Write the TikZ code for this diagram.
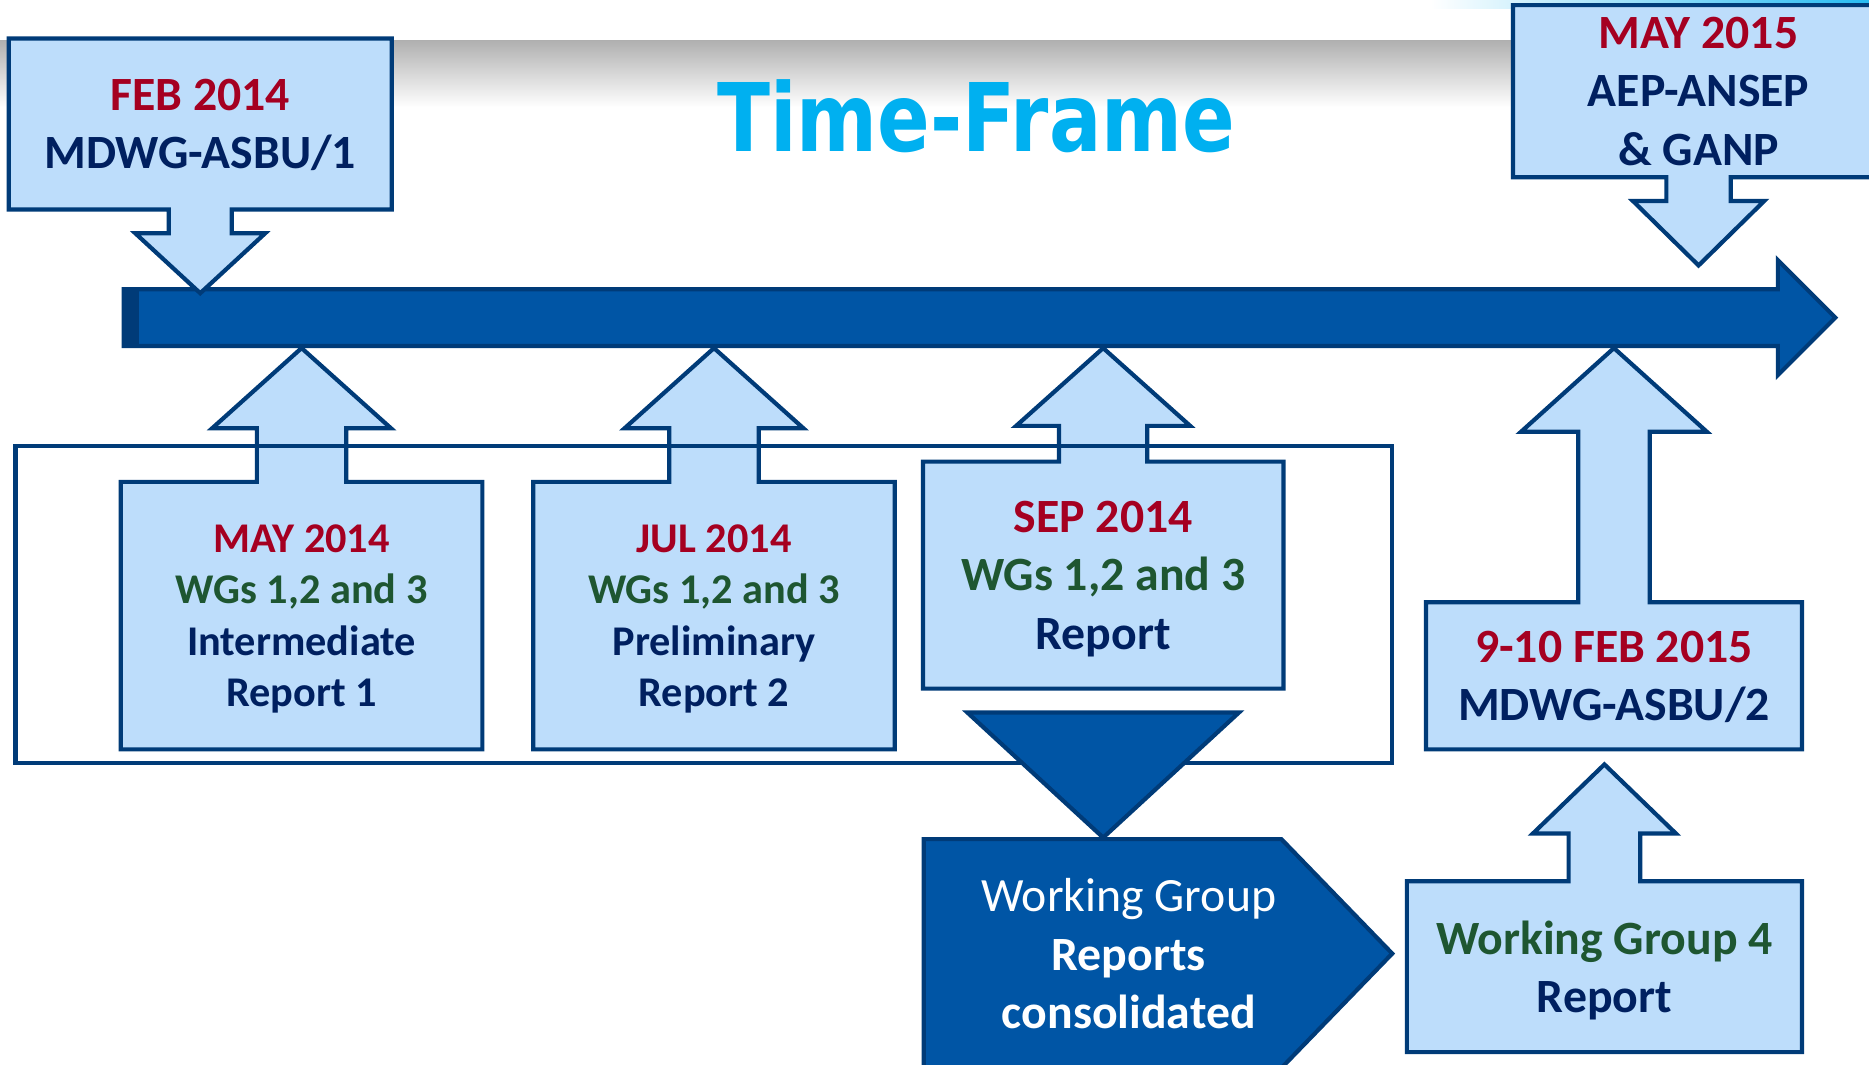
\documentclass[tikz,border=0pt]{standalone}
\usepackage{fontspec}
\setmainfont{Carlito}
\newfontfamily\titlefont{DejaVu Sans}
\usetikzlibrary{shapes.arrows, calc, backgrounds}

\definecolor{boxfill}{HTML}{BDDDFB}
\definecolor{boxline}{HTML}{003B78}
\definecolor{lineblue}{HTML}{0055A5}
\definecolor{datered}{HTML}{A50021}
\definecolor{wggreen}{HTML}{1E5631}
\definecolor{navytext}{HTML}{002060}
\definecolor{titlecyan}{HTML}{00B0F0}

\tikzset{
    box_text/.style={
        align=center, inner sep=0pt, text=navytext, text depth=0pt,
        font=\bfseries\fontsize{11.4}{13.9}\selectfont
    },
    box_text_small/.style={
        box_text, font=\bfseries\fontsize{10.1}{12.2}\selectfont
    },
    callout_shape/.style={
        draw=boxline, fill=boxfill, line width=1pt
    },
    dark_shape/.style={
        draw=boxline, fill=lineblue, line width=1pt
    },
    timeline_arrow/.style={
        single arrow, draw=boxline, fill=lineblue, line width=1pt,
        inner xsep=0pt, inner ysep=0.22cm,
        single arrow head extend=0.245cm, minimum height=14.36cm
    }
}

% box outline merged with a block arrow
% #1 box, #2 shaft half width, #3 neck length, #4 head half width, #5 tip
\newcommand{\upcallout}[5]{%
    \draw[callout_shape] (#1.south west) -- (#1.north west)
        -- ($(#1.north)+(-#2,0)$) -- ($(#1.north)+(-#2,#3)$) -- ($(#1.north)+(-#4,#3)$)
        -- (#5) -- ($(#1.north)+(#4,#3)$) -- ($(#1.north)+(#2,#3)$)
        -- ($(#1.north)+(#2,0)$) -- (#1.north east) -- (#1.south east) -- cycle;%
}
\newcommand{\downcallout}[5]{%
    \draw[callout_shape] (#1.north west) -- (#1.south west)
        -- ($(#1.south)+(-#2,0)$) -- ($(#1.south)+(-#2,-#3)$) -- ($(#1.south)+(-#4,-#3)$)
        -- (#5) -- ($(#1.south)+(#4,-#3)$) -- ($(#1.south)+(#2,-#3)$)
        -- ($(#1.south)+(#2,0)$) -- (#1.south east) -- (#1.north east) -- cycle;%
}

\begin{document}
\begin{tikzpicture}

    \useasboundingbox (0,0) rectangle (15.68,-8.93);

    % --- Title ---
    \node[font=\titlefont\bfseries\fontsize{22.6}{27}\selectfont, text=titlecyan,
          xscale=0.82, transform shape, anchor=base] (title) at (8.19,-1.27) {Time-Frame};

    % --- Meetings above the line ---
    \node[box_text, minimum width=3.20cm, minimum height=1.42cm] (feb14) at (1.68,-1.04) {
        \textcolor{datered}{FEB 2014}\\
        MDWG-ASBU/1
    };
    \node[box_text, minimum width=3.10cm, minimum height=1.43cm] (may15) at (14.25,-0.765) {
        \textcolor{datered}{MAY 2015}\\
        AEP-ANSEP\\
        \& GANP
    };

    % --- Working group reports below the line ---
    \node[box_text_small, minimum width=3.02cm, minimum height=2.23cm] (may14) at (2.53,-5.165) {
        \textcolor{datered}{MAY 2014}\\
        \textcolor{wggreen}{WGs 1,2 and 3}\\
        Intermediate\\
        Report 1
    };
    \node[box_text_small, minimum width=3.02cm, minimum height=2.23cm] (jul14) at (5.99,-5.165) {
        \textcolor{datered}{JUL 2014}\\
        \textcolor{wggreen}{WGs 1,2 and 3}\\
        Preliminary\\
        Report 2
    };
    \node[box_text, minimum width=3.01cm, minimum height=1.89cm] (sep14) at (9.255,-4.825) {
        \textcolor{datered}{SEP 2014}\\
        \textcolor{wggreen}{WGs 1,2 and 3}\\
        Report
    };
    \node[box_text, minimum width=3.14cm, minimum height=1.22cm] (feb15) at (13.54,-5.67) {
        \textcolor{datered}{9-10 FEB 2015}\\
        MDWG-ASBU/2
    };
    \node[box_text, minimum width=3.30cm, minimum height=1.42cm] (wg4) at (13.46,-8.11) {
        \textcolor{wggreen}{Working Group 4}\\
        Report
    };

    \begin{scope}[on background layer]
        % header band
        \fill[top color=black!31, bottom color=white] (0,-0.34) rectangle (15.68,-0.90);
        \shade[left color=white, right color=titlecyan!85] (12.0,0) rectangle (15.68,-0.07);

        % --- Time line ---
        \node[timeline_arrow, anchor=tail] (timeline) at (1.02,-2.665) {};
        \fill[boxline] (timeline.before tail) rectangle ($(timeline.after tail)+(0.15,0)$);

        % --- Callouts ---
        \downcallout{feb14}{0.265}{0.20}{0.545}{$(feb14.south |- timeline.north)+(0,-0.05)$}
        \downcallout{may15}{0.27}{0.20}{0.55}{$(may15.south)+(0,-0.74)$}
        \upcallout{may14}{0.375}{0.45}{0.75}{may14.north |- timeline.south}
        \upcallout{jul14}{0.375}{0.45}{0.75}{jul14.north |- timeline.south}
        \upcallout{sep14}{0.37}{0.30}{0.73}{sep14.north |- timeline.south}
        \upcallout{feb15}{0.30}{1.43}{0.78}{feb15.north |- timeline.south}
        \upcallout{wg4}{0.30}{0.40}{0.60}{$(wg4.north)+(0,0.98)$}
    \end{scope}

    % frame round the WG 1-3 reports
    \draw[boxline, line width=1pt] (0.13,-3.74) rectangle (11.68,-6.40);

    % --- Consolidation ---
    \draw[dark_shape] ($(sep14.south)+(-1.14,-0.20)$) -- ($(sep14.south)+(1.14,-0.20)$)
        -- ($(sep14.south)+(0,-1.25)$) -- cycle;
    \draw[dark_shape] (7.75,-7.04) -- (10.75,-7.04) -- (11.68,-8.00) -- (10.75,-8.96) -- (7.75,-8.96) -- cycle;
    \node[box_text, text=white] (wgrep) at (9.47,-8.00) {
        {\mdseries Working Group}\\
        Reports\\
        consolidated
    };

\end{tikzpicture}
\end{document}
